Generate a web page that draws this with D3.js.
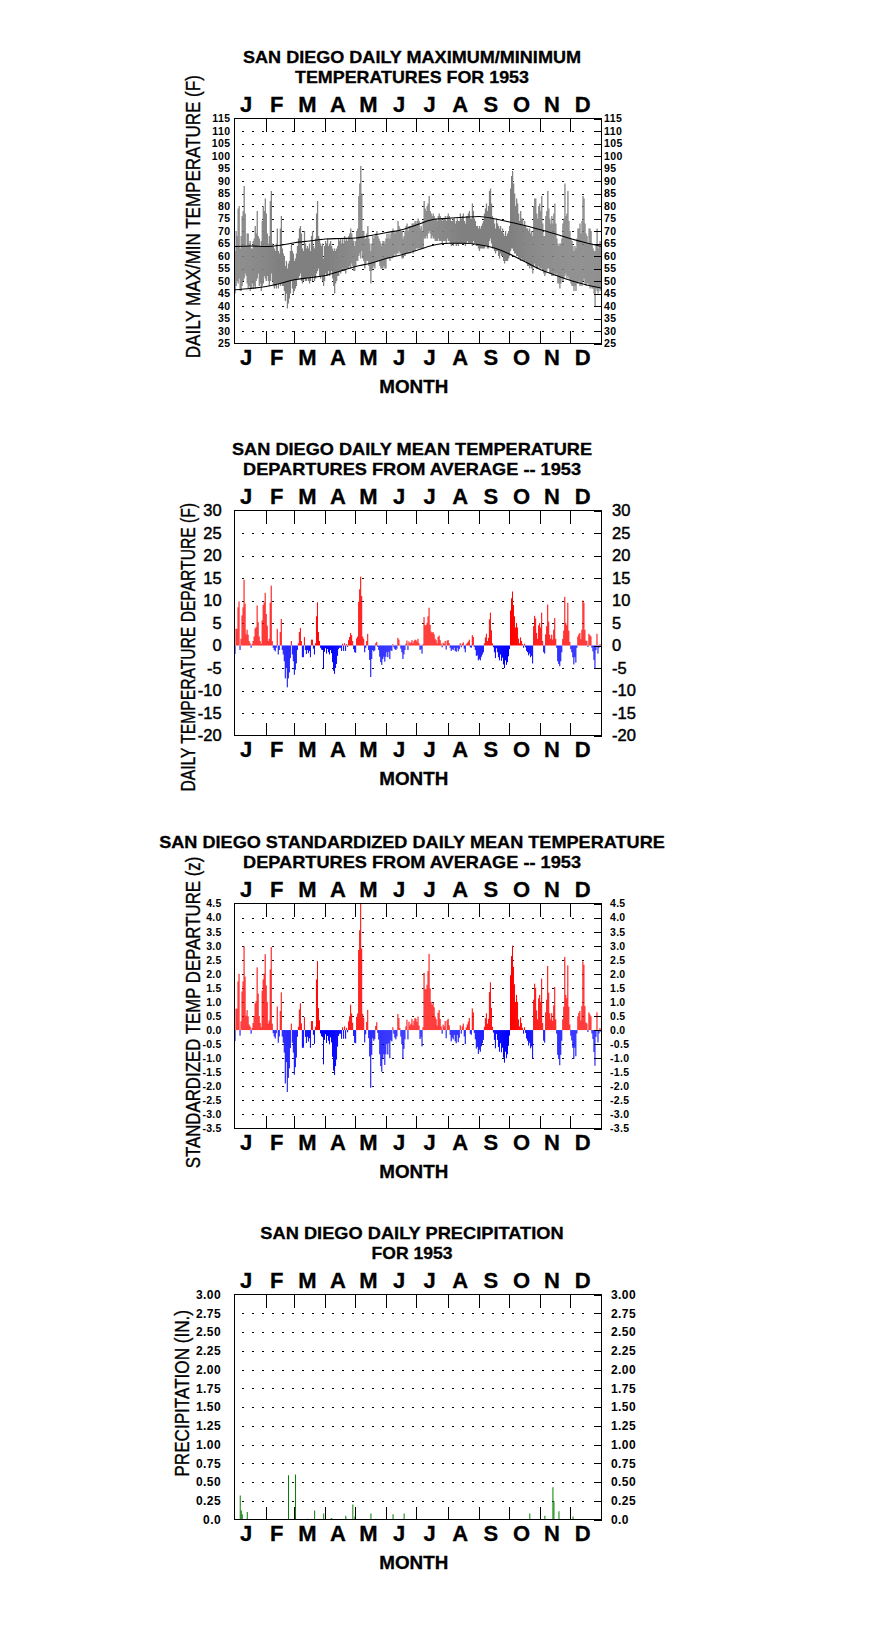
<!DOCTYPE html>
<html><head><meta charset="utf-8">
<script src="https://cdn.jsdelivr.net/npm/d3@7"></script>
<style>body{margin:0;background:#fff;} svg{display:block;}</style>
</head><body><svg id="c" width="876" height="1634"></svg>
<script>
// ---------------- DATA ----------------
const months = ["J","F","M","A","M","J","J","A","S","O","N","D"];
const monthStarts = [0,31,59,90,120,151,181,212,243,273,304,334];

const tempTicks = [25,30,35,40,45,50,55,60,65,70,75,80,85,90,95,100,105,110,115];
const depTicks = [-20,-15,-10,-5,0,5,10,15,20,25,30];
const zTicks = [-3.5,-3,-2.5,-2,-1.5,-1,-0.5,0,0.5,1,1.5,2,2.5,3,3.5,4,4.5];
const precipTicks = [0,0.25,0.5,0.75,1,1.25,1.5,1.75,2,2.25,2.5,2.75,3];

// daily maximum temperature (F), Jan..Dec
const tmax = [
62,70,68,79,80,63,68,76,78,88,77,64,69,69,65,66,63,63,66,67,72,69,78,68,67,64,66,74,80,78,83,
77,69,65,68,82,86,65,64,63,62,65,71,62,61,71,76,63,61,60,56,58,55,57,58,62,65,62,61,
58,59,61,64,67,71,72,69,63,62,70,65,63,64,63,65,62,68,70,64,63,67,77,82,68,67,65,64,65,59,64,
66,65,67,64,65,66,64,63,62,63,62,63,64,67,66,67,65,67,65,68,66,67,66,68,69,71,69,67,66,64,
66,70,71,84,89,96,85,70,70,67,67,69,72,67,65,62,65,68,67,68,69,70,68,67,66,65,64,66,66,65,67,
69,67,69,67,69,70,71,70,69,70,70,74,72,71,70,70,67,68,70,72,73,70,72,72,72,73,73,73,74,73,
74,75,74,71,72,70,74,82,79,78,80,81,84,78,77,76,77,76,75,75,74,76,77,76,75,74,75,75,76,74,76,
77,76,75,74,74,75,75,73,74,75,74,74,77,75,76,77,74,73,76,76,77,78,75,75,81,78,75,74,72,72,71,
72,71,72,73,74,77,79,81,78,80,86,87,81,76,75,73,71,75,73,72,71,72,70,71,69,68,70,68,69,70,
72,87,92,94,89,85,80,83,81,77,74,78,75,75,72,74,72,71,71,70,71,69,70,68,80,83,83,77,75,80,81,
78,84,73,68,68,76,78,86,79,75,73,76,73,77,81,73,67,65,64,65,65,67,73,75,89,76,77,86,74,70,
67,66,64,62,64,63,67,71,71,73,69,74,84,83,73,69,68,65,71,71,70,65,63,62,62,64,71,63,64,66,64];

// daily minimum temperature (F)
const tmin = [
45,48,50,49,51,46,46,48,50,51,53,52,49,47,48,46,47,49,47,48,47,50,51,53,48,49,46,48,49,52,51,
50,52,50,48,50,53,50,48,47,48,47,49,47,49,48,49,48,48,46,42,45,39,41,43,45,50,47,45,
46,47,48,51,51,52,53,50,49,50,51,50,50,51,50,49,50,52,50,52,50,51,53,54,55,52,51,52,50,48,50,
53,52,52,54,52,53,54,51,48,45,49,50,52,52,54,53,54,55,54,54,53,55,55,55,56,55,57,56,54,54,
56,58,58,60,61,59,62,59,58,55,57,58,58,56,54,49,54,55,56,55,58,58,58,58,56,55,55,55,56,55,55,
59,59,59,58,60,59,60,60,61,60,61,61,62,61,61,59,59,60,60,61,61,61,62,61,62,62,61,62,62,63,
63,63,63,63,63,63,63,67,67,68,67,69,70,69,67,68,67,67,66,66,66,67,66,66,66,65,66,66,66,65,67,
66,66,65,64,65,64,65,65,64,65,64,65,65,65,65,65,65,64,65,66,65,65,65,65,64,66,65,65,64,64,63,
62,63,63,63,63,63,64,64,63,63,66,67,65,63,63,62,61,62,62,60,59,61,60,60,58,57,58,58,58,59,
60,62,63,63,62,61,61,60,60,59,59,58,59,58,58,58,58,57,56,56,55,56,55,53,56,57,56,55,55,56,55,
55,55,54,53,52,53,54,55,55,53,53,52,52,52,53,52,53,49,49,47,49,51,50,51,52,53,51,52,51,50,
49,48,48,46,48,46,49,49,50,48,49,48,50,51,49,48,49,49,48,47,48,47,47,45,40,47,46,45,47,46,47];

// normal max / min temperature curves (day of year, F)
const normDays = [0,15,31,45,59,74,90,105,120,135,151,166,181,196,212,227,243,258,273,288,304,319,334,349,364];
const normMax = [63.8,64.0,63.8,64.3,65.3,66.0,66.8,67.0,67.2,68.2,69.4,70.5,72.5,74.5,75.1,75.5,75.8,74.9,73.6,72.2,70.5,68.8,66.9,65.3,63.9];
const normMin = [46.5,47.0,47.8,49.0,50.5,51.3,52.2,54.0,55.8,57.1,59.1,60.5,62.3,64.2,65.1,65.1,64.5,63.2,60.8,57.8,54.5,52.3,50.2,48.5,47.2];

// daily mean temperature departure (F)
const dep = [
-1.9,3.7,3.7,8.5,9.8,-1.0,1.5,6.7,8.5,14.6,9.3,2.5,3.5,2.4,1.0,0.5,-0.5,0.3,1.0,2.0,3.8,4.1,8.9,5.2,2.0,1.0,0.4,5.6,9.0,9.6,11.7,
7.0,4.4,1.0,1.5,9.5,13.3,1.0,-0.5,-1.0,-1.3,-0.5,3.7,-2.0,-1.0,3.0,5.9,-1.0,-2.0,-3.5,-7.3,-5.0,-9.3,-7.3,-6.0,-2.8,1.0,-2.0,-3.5,
-6.5,-5.4,-4.0,-1.0,0.5,3.0,3.9,1.0,-2.6,-2.6,1.9,-1.0,-1.9,-1.0,-1.7,-1.2,-2.6,1.3,1.3,-0.7,-2.0,0.5,6.5,9.6,3.0,1.0,-0.5,-0.9,-1.0,-5.0,-1.4,
-0.6,-1.8,-0.8,-1.5,-2.0,-1.0,-1.7,-3.7,-5.6,-6.3,-5.0,-4.1,-2.3,-0.8,-0.5,-0.5,-1.2,0.4,-1.2,0.5,-1.2,0.3,-0.3,1.2,1.9,2.8,2.3,1.0,-0.8,-1.5,
-1.6,1.6,2.0,9.7,12.5,15.3,11.0,2.0,1.5,-1.5,-0.5,1.0,2.6,-1.0,-3.2,-7.0,-3.0,-1.0,-1.3,-1.1,0.5,0.8,-0.3,-1.0,-2.5,-3.7,-4.3,-3.0,-2.5,-3.6,-2.5,
-1.5,-2.6,-1.4,-3.0,-1.1,-1.2,0.3,-0.4,-0.8,-1.0,-0.7,1.7,1.3,0.2,-0.7,-1.5,-3.0,-2.0,-1.0,0.4,1.1,-1.0,0.9,0.5,0.7,1.2,0.5,1.0,1.3,1.2,
0.9,1.5,0.5,-1.0,-0.8,-1.8,0.3,6.3,4.5,4.5,5.0,6.5,8.4,4.6,3.1,2.8,3.0,2.5,1.5,1.2,0.5,1.9,2.2,1.2,0.4,-0.4,0.6,0.4,1.0,-0.9,1.1,
1.2,0.5,-0.5,-1.2,-0.8,-1.0,-0.5,-1.2,-1.4,-0.5,-1.3,-0.8,0.5,-0.4,0.4,0.7,-0.7,-1.5,0.3,0.6,0.9,1.3,-0.4,-0.5,2.3,1.9,-0.3,-1.0,-2.3,-2.2,-3.3,
-3.0,-3.3,-2.5,-2.0,-1.5,0.5,1.8,2.6,1.0,1.7,5.8,7.3,3.4,0.5,-0.4,-1.5,-2.8,-0.6,-1.5,-2.6,-3.3,-2.0,-3.4,-2.7,-4.2,-5.0,-3.3,-4.3,-3.7,-2.4,
-0.8,7.8,10.5,12.0,9.0,6.5,4.0,5.0,4.0,1.5,0.5,1.8,1.0,0.3,-0.5,0.4,-0.4,-1.2,-1.5,-2.2,-1.8,-2.6,-2.3,-4.0,4.3,6.6,6.0,2.8,1.5,4.5,5.0,
4.0,7.3,1.0,-1.5,-1.8,2.5,4.3,9.1,5.3,2.4,1.5,2.4,1.3,3.5,6.1,1.5,-0.5,-3.5,-4.1,-4.6,-3.5,-1.5,1.5,3.3,10.8,5.0,4.5,9.5,3.3,0.8,
-0.8,-1.5,-2.6,-4.2,-2.6,-3.8,-0.5,2.0,2.5,2.8,1.4,3.5,10.0,9.5,3.5,1.1,1.0,-0.3,2.6,2.3,2.0,-0.5,-1.3,-3.2,-5.2,-1.0,2.6,-1.8,-0.5,0.3,-0.3];

// standardized daily mean temperature departure (z)
const zdep = [
-0.39,0.76,0.76,1.73,2.00,-0.20,0.31,1.37,1.73,2.98,1.90,0.51,0.71,0.49,0.20,0.13,-0.13,0.08,0.25,0.50,0.95,1.03,2.23,1.30,0.50,0.25,0.10,1.40,1.80,2.00,2.70,
1.59,1.00,0.23,0.34,2.16,2.95,0.23,-0.11,-0.23,-0.30,-0.11,0.84,-0.45,-0.23,0.68,1.34,-0.23,-0.45,-0.80,-1.90,-1.14,-2.20,-1.70,-1.36,-0.64,0.23,-0.45,-0.80,
-1.59,-1.32,-0.98,-0.24,0.12,0.73,0.95,0.24,-0.63,-0.63,0.46,-0.24,-0.46,-0.24,-0.41,-0.29,-0.63,0.32,0.32,-0.17,-0.49,0.12,1.80,2.45,0.78,0.35,-0.12,-0.22,-0.25,-1.22,-0.35,
-0.15,-0.46,-0.21,-0.38,-0.51,-0.26,-0.44,-0.95,-1.44,-1.60,-1.28,-1.05,-0.59,-0.21,-0.13,-0.13,-0.31,0.10,-0.31,0.13,-0.31,0.08,-0.08,0.31,0.49,0.90,0.59,0.26,-0.21,-0.45,
-0.47,0.47,0.59,2.85,3.55,4.50,2.90,0.58,0.44,-0.44,-0.15,0.29,0.72,-0.29,-0.94,-2.05,-0.88,-0.29,-0.38,-0.32,0.15,0.28,-0.10,-0.34,-0.86,-1.28,-1.48,-1.03,-0.86,-1.24,-0.86,
-0.50,-0.87,-0.47,-1.00,-0.37,-0.40,0.10,-0.13,-0.27,-0.33,-0.23,0.57,0.43,0.07,-0.23,-0.50,-1.00,-0.67,-0.33,0.13,0.37,-0.33,0.30,0.17,0.23,0.40,0.17,0.33,0.43,0.40,
0.29,0.48,0.16,-0.32,-0.26,-0.58,0.10,2.03,1.45,1.45,1.61,2.10,2.71,1.48,1.00,0.90,0.97,0.81,0.48,0.39,0.16,0.61,0.71,0.39,0.13,-0.13,0.19,0.13,0.32,-0.29,0.35,
0.40,0.17,-0.17,-0.40,-0.27,-0.33,-0.17,-0.40,-0.47,-0.17,-0.43,-0.27,0.17,-0.13,0.13,0.23,-0.23,-0.50,0.10,0.20,0.30,0.43,-0.13,-0.17,0.77,0.63,-0.10,-0.33,-0.66,-0.60,-0.85,
-0.70,-0.77,-0.58,-0.47,-0.35,0.12,0.42,0.60,0.23,0.40,1.35,1.70,0.79,0.12,-0.09,-0.35,-0.65,-0.14,-0.35,-0.60,-0.77,-0.47,-0.79,-0.63,-0.98,-1.16,-0.77,-1.00,-0.86,-0.56,
-0.20,1.95,2.63,3.00,2.25,1.63,1.00,1.25,1.00,0.38,0.13,0.45,0.25,0.08,-0.13,0.10,-0.10,-0.30,-0.38,-0.55,-0.45,-0.65,-0.58,-1.00,1.08,1.65,1.50,0.70,0.38,1.13,1.25,
1.00,1.83,0.25,-0.38,-0.45,0.63,1.08,2.28,1.33,0.60,0.38,0.60,0.33,0.88,1.53,0.38,-0.13,-0.88,-1.03,-1.25,-0.88,-0.38,0.38,0.83,2.60,1.25,1.13,2.30,0.83,0.20,
-0.20,-0.37,-0.63,-1.02,-0.63,-0.93,-0.12,0.49,0.61,0.68,0.34,0.85,2.44,2.32,0.85,0.27,0.24,-0.07,0.63,0.56,0.49,-0.12,-0.32,-0.78,-1.27,-0.24,0.63,-0.44,-0.12,0.07,-0.07];

// daily precipitation (in.) : day of year and amount (all other days 0)
const precipDays = [5,6,7,12,53,60,72,79,88,95,96,110,111,117,119,120,135,140,157,168,293,308,316,317,322,336];
const precipVals = [0.32,0.12,0.07,0.10,0.59,0.60,0.01,0.12,0.08,0.01,0.02,0.05,0.01,0.20,0.04,0.01,0.08,0.01,0.07,0.08,0.08,0.05,0.43,0.24,0.11,0.04];

// ---------------- DRAWING ----------------
const FONT = "'Liberation Sans', Arial, Helvetica, sans-serif";
const svg = d3.select("#c");
svg.append("rect").attr("width",876).attr("height",1634).attr("fill","#fff");

const X0 = 234.5, X1 = 601.5, H = 225;
const x = d3.scaleLinear().domain([0, 365]).range([X0, X1]);
const mband = d3.scaleBand().domain(d3.range(12)).range([X0, X1]);

function txt(g, s, o) {
  const t = g.append("text").text(s)
    .attr("font-family", FONT)
    .attr("font-size", o.size)
    .attr("font-weight", o.weight || "bold")
    .attr("text-anchor", "middle")
    .attr("fill", "#000");
  if (o.heavy) t.attr("stroke", "#000").attr("stroke-width", o.heavy);
  if (o.len) t.attr("textLength", o.len).attr("lengthAdjust", "spacingAndGlyphs");
  if (o.rot) t.attr("transform", `translate(${o.x},${o.y}) rotate(-90)`);
  else t.attr("x", o.x).attr("y", o.y);
  return t;
}

function makeChart(cfg) {
  const top = cfg.top, bot = top + H;
  const g = svg.append("g");
  const y = d3.scaleLinear().domain(cfg.domain).range([bot, top]);
  const lo = cfg.domain[0], hi = cfg.domain[1];

  // dotted grid rows
  const gridVals = cfg.ticks.filter(v => v > lo && v < hi && (cfg.skipZero ? v !== 0 : true));
  g.append("g").selectAll("line").data(gridVals).join("line")
    .attr("x1", 242).attr("x2", 592)
    .attr("y1", d => Math.round(y(d)) + 0.5).attr("y2", d => Math.round(y(d)) + 0.5)
    .attr("stroke", "#000").attr("stroke-width", 1).attr("stroke-dasharray", "2,8");

  const dataG = g.append("g");

  // frame
  g.append("rect").attr("x", X0).attr("y", top).attr("width", X1 - X0).attr("height", H)
    .attr("fill", "none").attr("stroke", "#000").attr("stroke-width", 1);

  // month tick marks (top and bottom, pointing inward)
  const mt = monthStarts.slice(1);
  const topTicks = g.append("g").attr("transform", `translate(0,${top})`)
    .call(d3.axisBottom(x).tickValues(mt).tickSize(13).tickFormat(""));
  const botTicks = g.append("g").attr("transform", `translate(0,${bot})`)
    .call(d3.axisTop(x).tickValues(mt).tickSize(13).tickFormat(""));
  [topTicks, botTicks].forEach(a => { a.select(".domain").remove(); a.selectAll("line").attr("stroke", "#000").attr("shape-rendering","crispEdges"); });

  // right side inward ticks
  const rt = g.append("g").attr("transform", `translate(${X1},0)`)
    .call(d3.axisLeft(y).tickValues(cfg.ticks).tickSize(8).tickFormat(""));
  rt.select(".domain").remove();
  rt.selectAll("line").attr("stroke", "#000").attr("shape-rendering","crispEdges");

  // tick labels
  const la = g.append("g").attr("transform", `translate(${cfg.leftX},0)`)
    .call(d3.axisLeft(y).tickValues(cfg.ticks).tickSize(0).tickPadding(0).tickFormat(cfg.fmt));
  const ra = g.append("g").attr("transform", `translate(${cfg.rightX},0)`)
    .call(d3.axisRight(y).tickValues(cfg.ticks).tickSize(0).tickPadding(0).tickFormat(cfg.fmt));
  [la, ra].forEach(a => {
    a.select(".domain").remove();
    const t = a.selectAll("text").attr("font-family", FONT).attr("font-size", cfg.tickSize)
      .attr("font-weight", cfg.tickWeight).attr("fill", "#000")
      .attr("letter-spacing", cfg.tickSpacing || 0);
    if (cfg.tickHeavy) t.attr("stroke", "#000").attr("stroke-width", cfg.tickHeavy);
  });

  // month letters
  const mfmt = i => months[i];
  const mTop = g.append("g").attr("transform", `translate(-3.6,${top - 6.5})`)
    .call(d3.axisTop(mband).tickSize(0).tickPadding(0).tickFormat(mfmt));
  const mBot = g.append("g").attr("transform", `translate(-3.6,${bot + 21.5})`)
    .call(d3.axisTop(mband).tickSize(0).tickPadding(0).tickFormat(mfmt));
  [mTop, mBot].forEach(a => {
    a.select(".domain").remove();
    a.selectAll("text").attr("font-family", FONT).attr("font-size", 22)
      .attr("font-weight", "bold").attr("fill", "#000").attr("dy", 0)
      .attr("stroke", "#000").attr("stroke-width", 0.3);
  });

  // titles
  txt(g, cfg.title[0], {x: 412, y: top - 56, size: 17, len: cfg.titleLen[0], heavy: 0.3});
  txt(g, cfg.title[1], {x: 412, y: top - 36, size: 17, len: cfg.titleLen[1], heavy: 0.3});
  txt(g, "MONTH", {x: 413.8, y: bot + 49, size: 18.5, len: 69, heavy: 0.3});
  txt(g, cfg.ytitle, {x: cfg.yt[0] + 7, y: cfg.yt[1], size: 19.5, weight: "normal", len: cfg.yt[2], rot: true, heavy: 0.35});

  return {g: dataG, y};
}

const days = d3.range(365);
const dw = x(1) - x(0);

// ---- Chart 1: daily max/min temperatures
{
  const c = makeChart({
    top: 118.5, domain: [25, 115], ticks: tempTicks, fmt: d => String(d),
    leftX: 230.5, rightX: 604, tickSize: 10.5, tickWeight: "bold", tickSpacing: 0.4,
    title: ["SAN DIEGO DAILY MAXIMUM/MINIMUM", "TEMPERATURES FOR 1953"], titleLen: [338, 234],
    ytitle: "DAILY MAX/MIN TEMPERATURE (F)", yt: [193.3, 216.7, 283]
  });
  c.g.selectAll("rect").data(days).join("rect")
    .attr("x", i => x(i)).attr("width", dw + 0.25)
    .attr("y", i => c.y(tmax[i])).attr("height", i => c.y(tmin[i]) - c.y(tmax[i]))
    .attr("fill", "#808080");
  const ln = arr => d3.line().x((d, i) => x(normDays[i] + 0.5)).y(d => c.y(d)).curve(d3.curveMonotoneX)(arr);
  c.g.append("path").attr("d", ln(normMax)).attr("fill", "none").attr("stroke", "#000").attr("stroke-width", 1.1);
  c.g.append("path").attr("d", ln(normMin)).attr("fill", "none").attr("stroke", "#000").attr("stroke-width", 1.1);
}

// ---- Chart 2: departures (F)
{
  const c = makeChart({
    top: 510.5, domain: [-20, 30], ticks: depTicks, fmt: d => String(d), skipZero: true,
    leftX: 221.7, rightX: 612, tickSize: 16.5, tickWeight: "normal", tickHeavy: 0.45,
    title: ["SAN DIEGO DAILY MEAN TEMPERATURE", "DEPARTURES FROM AVERAGE -- 1953"], titleLen: [360, 338],
    ytitle: "DAILY TEMPERATURE DEPARTURE (F)", yt: [187.5, 647.3, 288.6]
  });
  c.g.selectAll("rect").data(days).join("rect")
    .attr("x", i => x(i)).attr("width", dw)
    .attr("y", i => Math.min(c.y(dep[i]), c.y(0)))
    .attr("height", i => Math.abs(c.y(dep[i]) - c.y(0)))
    .attr("fill", i => dep[i] >= 0 ? "#ff0000" : "#0000ff");
}

// ---- Chart 3: standardized departures (z)
{
  const c = makeChart({
    top: 903.5, domain: [-3.5, 4.5], ticks: zTicks, fmt: d => d.toFixed(1), skipZero: true,
    leftX: 221.7, rightX: 610, tickSize: 10.5, tickWeight: "bold", tickSpacing: 0.3,
    title: ["SAN DIEGO STANDARDIZED DAILY MEAN TEMPERATURE", "DEPARTURES FROM AVERAGE -- 1953"], titleLen: [505.7, 338],
    ytitle: "STANDARDIZED TEMP DEPARTURE (z)", yt: [192.5, 1012.5, 311.6]
  });
  c.g.selectAll("rect").data(days).join("rect")
    .attr("x", i => x(i)).attr("width", dw)
    .attr("y", i => Math.min(c.y(zdep[i]), c.y(0)))
    .attr("height", i => Math.abs(c.y(zdep[i]) - c.y(0)))
    .attr("fill", i => zdep[i] >= 0 ? "#ff0000" : "#0000ff");
}

// ---- Chart 4: precipitation
{
  const c = makeChart({
    top: 1294.5, domain: [0, 3], ticks: precipTicks, fmt: d => d === 0 ? "0.0" : d.toFixed(2),
    leftX: 221, rightX: 611, tickSize: 12, tickWeight: "bold", tickSpacing: 0.4,
    title: ["SAN DIEGO DAILY PRECIPITATION", "FOR 1953"], titleLen: [303.3, 81],
    ytitle: "PRECIPITATION (IN.)", yt: [181.5, 1393.3, 166.7]
  });
  c.g.selectAll("rect").data(precipDays).join("rect")
    .attr("x", (d) => x(d) + 0.2).attr("width", 1)
    .attr("y", (d, i) => c.y(precipVals[i]))
    .attr("height", (d, i) => c.y(0) - c.y(precipVals[i]))
    .attr("fill", "#008000");
}
</script>
</body></html>
